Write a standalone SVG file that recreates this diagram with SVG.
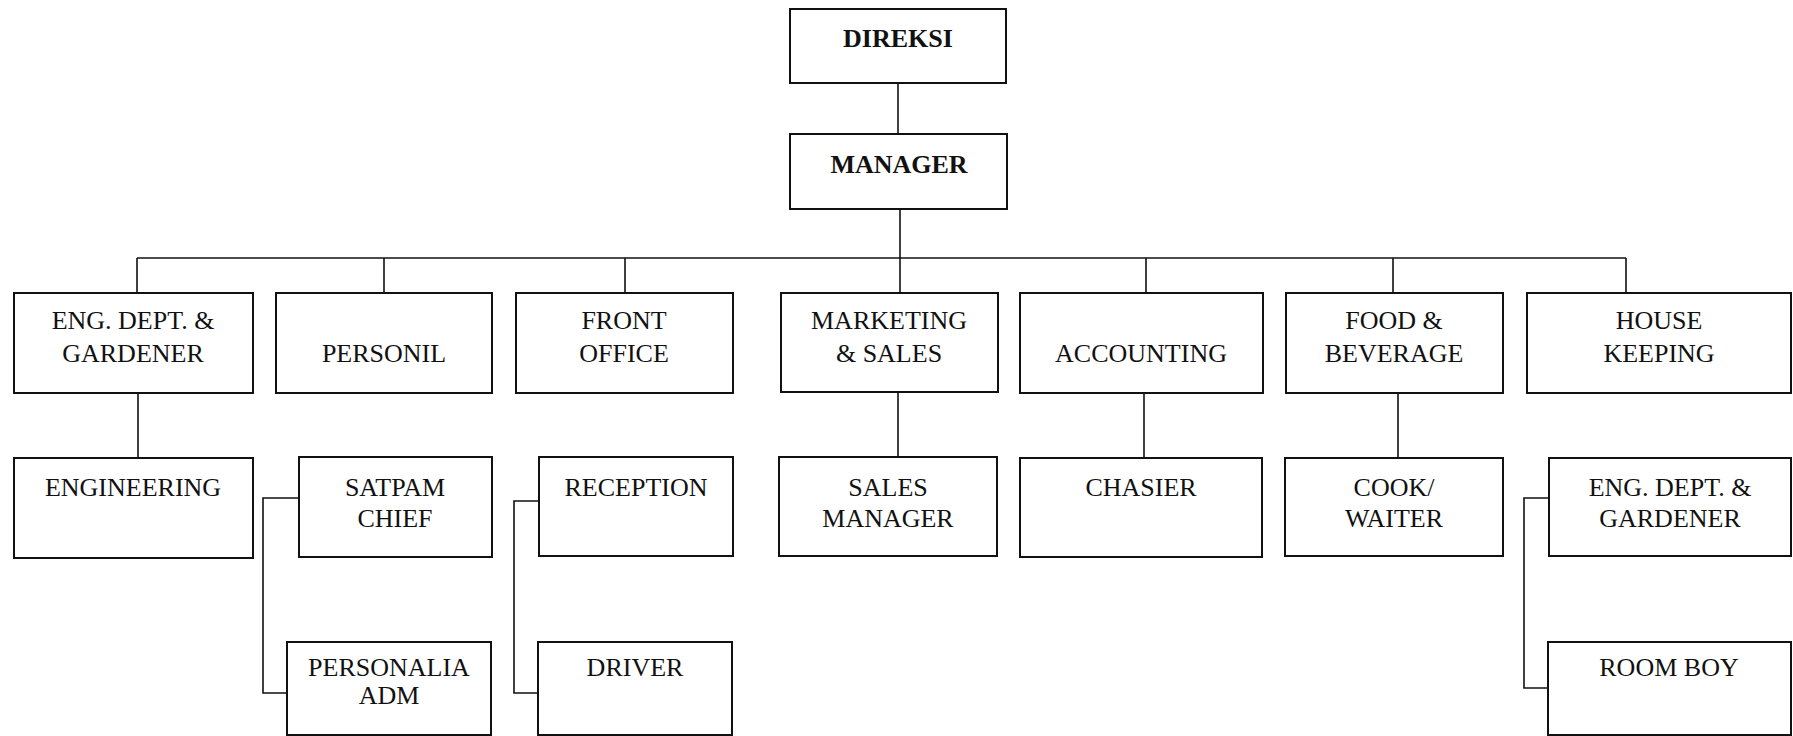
<svg xmlns="http://www.w3.org/2000/svg" width="1793" height="736" viewBox="0 0 1793 736">
  <style>
    .box { fill: #ffffff; stroke: #111111; stroke-width: 2; }
    .link { fill: none; stroke: #111111; stroke-width: 1.6; }
    .lbl { font-family: "Liberation Serif", "Times New Roman", serif; font-size: 26px; fill: #111111; text-anchor: middle; }
    .head { font-weight: bold; font-size: 26px; }
  </style>
  <rect x="0" y="0" width="1793" height="736" fill="#ffffff"/>

  <!-- connectors -->
  <g id="connectors">
    <path class="link" d="M898,83 V134"/>
    <path class="link" d="M900,209 V293"/>
    <path class="link" d="M137,258 H1626"/>
    <path class="link" d="M137,258 V293 M384,258 V293 M625,258 V293 M1146,258 V293 M1393,258 V293 M1626,258 V293"/>
    <path class="link" d="M138,393 V458 M898,392 V458 M1144,393 V458 M1398,393 V458"/>
    <path class="link" d="M299,498 H263 V693 H287"/>
    <path class="link" d="M539,501 H514 V693 H538"/>
    <path class="link" d="M1549,498 H1524 V688 H1548"/>
  </g>

  <!-- top level -->
  <g id="direksi">
    <rect class="box" x="790" y="9" width="216" height="74"/>
    <text class="lbl head" x="898" y="47">DIREKSI</text>
  </g>
  <g id="manager">
    <rect class="box" x="790" y="134" width="217" height="75"/>
    <text class="lbl head" x="899" y="173">MANAGER</text>
  </g>

  <!-- departments -->
  <g id="eng-dept">
    <rect class="box" x="14" y="293" width="239" height="100"/>
    <text class="lbl" x="133" y="329">ENG. DEPT. &amp;</text>
    <text class="lbl" x="133" y="362">GARDENER</text>
  </g>
  <g id="personil">
    <rect class="box" x="276" y="293" width="216" height="100"/>
    <text class="lbl" x="384" y="362">PERSONIL</text>
  </g>
  <g id="front-office">
    <rect class="box" x="516" y="293" width="217" height="100"/>
    <text class="lbl" x="624" y="329">FRONT</text>
    <text class="lbl" x="624" y="362">OFFICE</text>
  </g>
  <g id="marketing">
    <rect class="box" x="781" y="293" width="217" height="99"/>
    <text class="lbl" x="889" y="329">MARKETING</text>
    <text class="lbl" x="889" y="362">&amp; SALES</text>
  </g>
  <g id="accounting">
    <rect class="box" x="1020" y="293" width="243" height="100"/>
    <text class="lbl" x="1141" y="362">ACCOUNTING</text>
  </g>
  <g id="food-beverage">
    <rect class="box" x="1286" y="293" width="217" height="100"/>
    <text class="lbl" x="1394" y="329">FOOD &amp;</text>
    <text class="lbl" x="1394" y="362">BEVERAGE</text>
  </g>
  <g id="house-keeping">
    <rect class="box" x="1527" y="293" width="264" height="100"/>
    <text class="lbl" x="1659" y="329">HOUSE</text>
    <text class="lbl" x="1659" y="362">KEEPING</text>
  </g>

  <!-- sections -->
  <g id="engineering">
    <rect class="box" x="14" y="458" width="239" height="100"/>
    <text class="lbl" x="133" y="496">ENGINEERING</text>
  </g>
  <g id="satpam-chief">
    <rect class="box" x="299" y="457" width="193" height="100"/>
    <text class="lbl" x="395" y="496">SATPAM</text>
    <text class="lbl" x="395" y="527">CHIEF</text>
  </g>
  <g id="reception">
    <rect class="box" x="539" y="457" width="194" height="99"/>
    <text class="lbl" x="636" y="496">RECEPTION</text>
  </g>
  <g id="sales-manager">
    <rect class="box" x="779" y="457" width="218" height="99"/>
    <text class="lbl" x="888" y="496">SALES</text>
    <text class="lbl" x="888" y="527">MANAGER</text>
  </g>
  <g id="chasier">
    <rect class="box" x="1020" y="458" width="242" height="99"/>
    <text class="lbl" x="1141" y="496">CHASIER</text>
  </g>
  <g id="cook-waiter">
    <rect class="box" x="1285" y="458" width="218" height="98"/>
    <text class="lbl" x="1394" y="496">COOK/</text>
    <text class="lbl" x="1394" y="527">WAITER</text>
  </g>
  <g id="eng-dept-hk">
    <rect class="box" x="1549" y="458" width="242" height="98"/>
    <text class="lbl" x="1670" y="496">ENG. DEPT. &amp;</text>
    <text class="lbl" x="1670" y="527">GARDENER</text>
  </g>

  <!-- staff -->
  <g id="personalia-adm">
    <rect class="box" x="287" y="642" width="204" height="93"/>
    <text class="lbl" x="389" y="676">PERSONALIA</text>
    <text class="lbl" x="389" y="704">ADM</text>
  </g>
  <g id="driver">
    <rect class="box" x="538" y="642" width="194" height="93"/>
    <text class="lbl" x="635" y="676">DRIVER</text>
  </g>
  <g id="room-boy">
    <rect class="box" x="1548" y="642" width="243" height="93"/>
    <text class="lbl" x="1669" y="676">ROOM BOY</text>
  </g>
</svg>
